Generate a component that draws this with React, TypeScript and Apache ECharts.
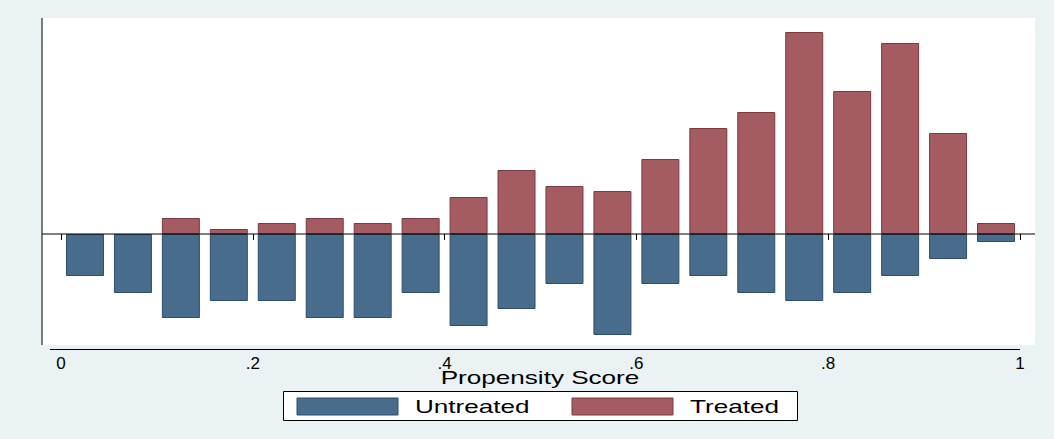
import React, { useEffect, useRef } from "react";
import * as echarts from "echarts";

const binCenters = [0.025,0.075,0.125,0.175,0.225,0.275,0.325,0.375,0.425,0.475,0.525,0.575,0.625,0.675,0.725,0.775,0.825,0.875,0.925,0.975];
const treated = [0,0,16,5,11,16,11,16,37,64,48,43,75,106,122,202,143,191,101,11];
const untreated = [42,59,84,67,67,84,84,59,92,75,50,101,50,42,59,67,59,42,25,8];
const seriesNames = ["Untreated", "Treated"];
const colors = ["#486C8C", "#A55B62"];
const borders = ["#2f4d6a", "#7a3a40"];

const Y_MIN = -111, Y_MAX = 216;
const TOP = 18, BOTTOM_Y = 345;
const FONT = "Liberation Sans";

export default function App() {
  const ref = useRef<HTMLDivElement>(null);
  useEffect(() => {
    const chart = echarts.init(ref.current!, null, { renderer: "svg" });
    const zeroY = TOP + (Y_MAX / (Y_MAX - Y_MIN)) * (BOTTOM_Y - TOP);
    const stretched = (text: string, x: number, y: number, align: string) => ({
      type: "text", x, y, scaleX: 1.45, originX: 0, originY: 0,
      style: { text, fontFamily: FONT, fontSize: 18, fill: "#000", align, verticalAlign: "middle" },
    });
    chart.setOption({
      animation: false,
      backgroundColor: "#EAF2F3",
      grid: { left: 61, right: 34, top: TOP, bottom: 439 - BOTTOM_Y, show: false },
      graphic: [
        { type: "rect", z: -10, shape: { x: 42, y: TOP, width: 993, height: BOTTOM_Y - TOP }, style: { fill: "#fff" } },
        { type: "line", shape: { x1: 42, y1: TOP, x2: 42, y2: BOTTOM_Y }, style: { stroke: "#000", lineWidth: 1 } },
        { type: "line", z: 10, shape: { x1: 42, y1: zeroY, x2: 1035, y2: zeroY }, style: { stroke: "#000", lineWidth: 1 } },
        { type: "line", shape: { x1: 50, y1: 349.5, x2: 1020, y2: 349.5 }, style: { stroke: "#000", lineWidth: 1 } },
        stretched("Propensity Score", 540, 378, "center"),
        { type: "rect", shape: { x: 283.5, y: 391.5, width: 514, height: 29 }, style: { fill: "#fff", stroke: "#000", lineWidth: 1 } },
        { type: "rect", shape: { x: 297, y: 398, width: 101, height: 17 }, style: { fill: colors[0], stroke: borders[0], lineWidth: 1 } },
        { type: "rect", shape: { x: 572, y: 398, width: 101, height: 17 }, style: { fill: colors[1], stroke: borders[1], lineWidth: 1 } },
        stretched(seriesNames[0], 415, 407, "left"),
        stretched(seriesNames[1], 690, 407, "left"),
      ],
      xAxis: {
        type: "value", min: 0, max: 1, interval: 0.2, offset: 4,
        axisLine: { show: false },
        axisTick: { show: true, length: 6, lineStyle: { color: "#000" } },
        axisLabel: { fontFamily: FONT, fontSize: 17, color: "#000", margin: 6,
          formatter: (v: number) => (v === 0 ? "0" : v === 1 ? "1" : v.toFixed(1).replace(/^0/, "")) },
        splitLine: { show: false },
      },
      yAxis: {
        type: "value", min: Y_MIN, max: Y_MAX,
        axisLine: { show: false }, axisTick: { show: false }, axisLabel: { show: false }, splitLine: { show: false },
      },
      series: [
        {
          name: seriesNames[0], type: "bar", barWidth: 38, barGap: "-100%",
          itemStyle: { color: colors[0], borderColor: borders[0], borderWidth: 1 },
          data: binCenters.map((c, i) => [c, -untreated[i]]),
        },
        {
          name: seriesNames[1], type: "bar", barWidth: 38, barGap: "-100%",
          itemStyle: { color: colors[1], borderColor: borders[1], borderWidth: 1 },
          data: binCenters.map((c, i) => (treated[i] > 0 ? [c, treated[i]] : [c, "-"])),
        },
      ],
    });
    return () => chart.dispose();
  }, []);
  return <div ref={ref} style={{ position: "fixed", left: 0, top: 0, width: 1054, height: 439 }} />;
}
